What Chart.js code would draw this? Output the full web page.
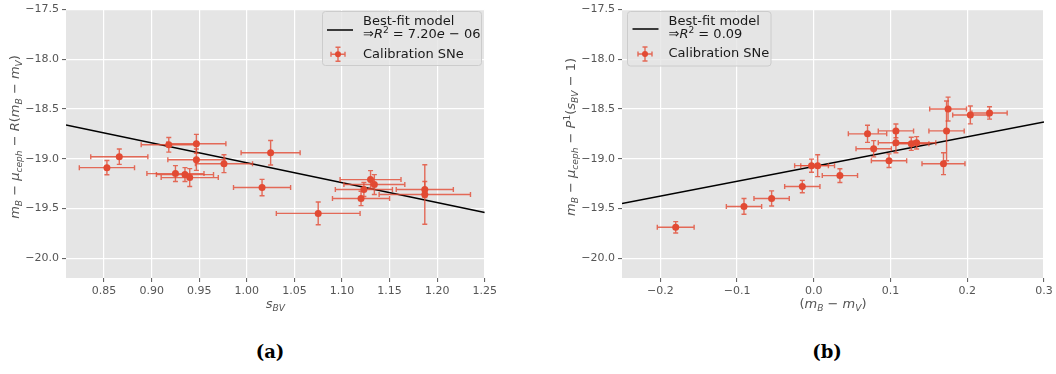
<!DOCTYPE html>
<html>
<head>
<meta charset="utf-8">
<script src="https://cdn.jsdelivr.net/npm/chart.js@4.4.1/dist/chart.umd.min.js"></script>
<style>
    body { margin: 0; background: #fff; width: 1056px; height: 374px; overflow: hidden; position: relative; }
    canvas { position: absolute; top: 0; }
    #chartA { left: 0; }
    #chartB { left: 556px; }
    .caption { position: absolute; top: 342px; width: 60px; text-align: center; font: bold 18px "DejaVu Serif", serif; color: #000; line-height: 20px; }
</style>
</head>
<body>
<canvas id="chartA" width="500" height="320"></canvas>
<canvas id="chartB" width="500" height="320"></canvas>
<div class="caption" style="left:240px">(a)</div>
<div class="caption" style="left:797px">(b)</div>
<script>
// panel (a): magnitude vs stretch s_BV
let sbv = [0.853, 0.866, 0.918, 0.947, 0.947, 0.976, 1.025, 0.925, 0.935, 0.940, 1.016, 1.075, 1.130, 1.134, 1.123, 1.120, 1.187, 1.187];
let sbvErr = [0.029, 0.030, 0.029, 0.031, 0.030, 0.030, 0.031, 0.030, 0.030, 0.030, 0.030, 0.044, 0.032, 0.032, 0.030, 0.030, 0.030, 0.048];
let magA = [-19.09, -18.98, -18.86, -18.85, -19.01, -19.05, -18.94, -19.15, -19.16, -19.19, -19.29, -19.55, -19.21, -19.26, -19.31, -19.40, -19.31, -19.36];
let magAErr = [0.072, 0.077, 0.074, 0.095, 0.107, 0.09, 0.123, 0.08, 0.07, 0.09, 0.082, 0.115, 0.09, 0.10, 0.07, 0.072, 0.08, 0.30];
let fitAX = [0.81, 1.25];
let fitAY = [-18.66, -19.54];
let sbvTicks = [0.85, 0.90, 0.95, 1.00, 1.05, 1.10, 1.15, 1.20, 1.25];

// panel (b): magnitude vs colour (m_B - m_V)
let colour = [-0.180, -0.091, -0.055, -0.015, -0.003, 0.005, 0.034, 0.070, 0.078, 0.107, 0.098, 0.107, 0.127, 0.134, 0.175, 0.173, 0.169, 0.204, 0.229];
let colourErr = [0.024, 0.023, 0.023, 0.023, 0.022, 0.022, 0.023, 0.025, 0.023, 0.023, 0.023, 0.023, 0.023, 0.025, 0.024, 0.023, 0.028, 0.023, 0.023];
let magB = [-19.69, -19.48, -19.40, -19.28, -19.07, -19.07, -19.17, -18.75, -18.90, -18.72, -19.02, -18.84, -18.85, -18.84, -18.50, -18.72, -19.05, -18.56, -18.54];
let magBErr = [0.057, 0.079, 0.076, 0.062, 0.066, 0.11, 0.069, 0.086, 0.082, 0.069, 0.069, 0.10, 0.066, 0.062, 0.12, 0.30, 0.11, 0.09, 0.062];
let fitBX = [-0.25, 0.3];
let fitBY = [-19.45, -18.63];
let colourTicks = [-0.2, -0.1, 0.0, 0.1, 0.2, 0.3];

let magTicks = [-20.0, -19.5, -19.0, -18.5, -18.0, -17.5];

const RED = '#E24A33';
const FONT = '"DejaVu Sans", sans-serif';

function minus(s) {
    return s.replace('-', '\u2212');
}

// draws a list of [text, style] runs; style: n normal, i italic, sub, sup
function runFont(style, size) {
    if (style === 'i') return 'italic ' + size + 'px ' + FONT;
    if (style === 'sub') return 'italic ' + (size * 0.7) + 'px ' + FONT;
    if (style === 'sup') return (size * 0.7) + 'px ' + FONT;
    return size + 'px ' + FONT;
}

function mathWidth(ctx, parts, size) {
    let w = 0;
    parts.forEach(p => {
        ctx.font = runFont(p[1], size);
        w += ctx.measureText(p[0]).width;
    });
    return w;
}

function drawMath(ctx, parts, x, y, size, color, align) {
    ctx.save();
    ctx.fillStyle = color;
    ctx.textBaseline = 'middle';
    ctx.textAlign = 'left';
    let cx = x;
    if (align === 'center') cx = x - mathWidth(ctx, parts, size) / 2;
    parts.forEach(p => {
        ctx.font = runFont(p[1], size);
        let dy = 0;
        if (p[1] === 'sub') dy = size * 0.25;
        if (p[1] === 'sup') dy = -size * 0.35;
        ctx.fillText(p[0], cx, y + dy);
        cx += ctx.measureText(p[0]).width;
    });
    ctx.restore();
}

function drawErrorCross(ctx, x, y, x0, x1, y0, y1) {
    let cap = 2.5;
    ctx.beginPath();
    ctx.moveTo(x0, y); ctx.lineTo(x1, y);
    ctx.moveTo(x, y0); ctx.lineTo(x, y1);
    ctx.moveTo(x0, y - cap); ctx.lineTo(x0, y + cap);
    ctx.moveTo(x1, y - cap); ctx.lineTo(x1, y + cap);
    ctx.moveTo(x - cap, y0); ctx.lineTo(x + cap, y0);
    ctx.moveTo(x - cap, y1); ctx.lineTo(x + cap, y1);
    ctx.stroke();
}

function makeChart(id, xs, ys, xErr, yErr, fitX, fitY, xTicks, xDigits, xMin, xMax, panel) {
    const panelPlugin = {
        id: 'panel',
        beforeDraw(chart) {
            const a = chart.chartArea;
            const ctx = chart.ctx;
            ctx.save();
            ctx.fillStyle = '#E5E5E5';
            ctx.fillRect(a.left, a.top, a.right - a.left, a.bottom - a.top);
            ctx.restore();
        },
        beforeDatasetDraw(chart, args) {
            if (args.index !== 0) return;
            const ctx = chart.ctx;
            const sx = chart.scales.x;
            const sy = chart.scales.y;
            ctx.save();
            ctx.strokeStyle = 'rgba(226, 74, 51, 0.8)';
            ctx.lineWidth = 1.4;
            xs.forEach((v, i) => {
                drawErrorCross(ctx,
                    sx.getPixelForValue(v), sy.getPixelForValue(ys[i]),
                    sx.getPixelForValue(v - xErr[i]), sx.getPixelForValue(v + xErr[i]),
                    sy.getPixelForValue(ys[i] + yErr[i]), sy.getPixelForValue(ys[i] - yErr[i]));
            });
            ctx.restore();
        },
        afterDraw(chart) {
            const ctx = chart.ctx;
            const a = chart.chartArea;
            // axis titles
            drawMath(ctx, panel.xTitle, (a.left + a.right) / 2, 305, 13, '#555', 'center');
            ctx.save();
            ctx.translate(16, 137);
            ctx.rotate(-Math.PI / 2);
            drawMath(ctx, panel.yTitle, 0, 0, 13, '#555', 'center');
            ctx.restore();

            // legend
            const L = panel.legend;
            ctx.save();
            ctx.fillStyle = 'rgba(229, 229, 229, 0.8)';
            ctx.strokeStyle = '#CCCCCC';
            ctx.lineWidth = 1;
            ctx.beginPath();
            ctx.roundRect(L.x0, L.y0, L.x1 - L.x0, L.y1 - L.y0, 3);
            ctx.fill();
            ctx.stroke();
            ctx.strokeStyle = '#000';
            ctx.lineWidth = 1.5;
            ctx.beginPath();
            ctx.moveTo(L.lineX0, L.lineY);
            ctx.lineTo(L.lineX1, L.lineY);
            ctx.stroke();
            ctx.strokeStyle = 'rgba(226, 74, 51, 0.8)';
            ctx.lineWidth = 1.4;
            drawErrorCross(ctx, L.markX, L.rows[2], L.markX - 7, L.markX + 7, L.rows[2] - 7, L.rows[2] + 7);
            ctx.fillStyle = RED;
            ctx.beginPath();
            ctx.arc(L.markX, L.rows[2], 3, 0, Math.PI * 2);
            ctx.fill();
            ctx.restore();
            drawMath(ctx, [['Best-fit model', 'n']], L.textX, L.rows[0], 13, '#1a1a1a');
            drawMath(ctx, panel.r2, L.textX, L.rows[1], 13, '#1a1a1a');
            drawMath(ctx, [['Calibration SNe', 'n']], L.textX, L.rows[2], 13, '#1a1a1a');
        }
    };

    return new Chart(document.getElementById(id), {
        type: 'scatter',
        data: {
            datasets: [
                {
                    label: 'Calibration SNe',
                    data: xs.map((v, i) => ({ x: v, y: ys[i] })),
                    backgroundColor: RED,
                    borderWidth: 0,
                    pointRadius: 3.5,
                    showLine: false
                },
                {
                    label: 'Best-fit model',
                    data: fitX.map((v, i) => ({ x: v, y: fitY[i] })),
                    borderColor: '#000',
                    borderWidth: 1.5,
                    pointRadius: 0,
                    showLine: true
                }
            ]
        },
        options: {
            responsive: false,
            animation: false,
            devicePixelRatio: 1,
            events: [],
            layout: { padding: { top: 5, right: 12, left: 0, bottom: 0 } },
            plugins: { legend: { display: false }, tooltip: { enabled: false } },
            scales: {
                x: {
                    type: 'linear',
                    min: xMin,
                    max: xMax,
                    afterBuildTicks: s => { s.ticks = xTicks.map(v => ({ value: v })); },
                    afterFit: s => { s.height = 42; },
                    border: { display: false },
                    grid: { color: '#FFFFFF', lineWidth: 1.2, tickColor: '#555', tickLength: 4, tickWidth: 1 },
                    ticks: {
                        padding: 3,
                        color: '#555',
                        font: { family: 'DejaVu Sans', size: 11 },
                        maxRotation: 0,
                        callback: v => minus(v.toFixed(xDigits))
                    }
                },
                y: {
                    type: 'linear',
                    min: -20.2,
                    max: -17.5,
                    afterBuildTicks: s => { s.ticks = magTicks.map(v => ({ value: v })); },
                    afterFit: s => { s.width = 66; },
                    border: { display: false },
                    grid: { color: '#FFFFFF', lineWidth: 1.2, tickColor: '#555', tickLength: 4, tickWidth: 1 },
                    ticks: {
                        padding: 3,
                        color: '#555',
                        font: { family: 'DejaVu Sans', size: 11 },
                        callback: v => minus(v.toFixed(1))
                    }
                }
            }
        },
        plugins: [panelPlugin]
    });
}

makeChart('chartA', sbv, magA, sbvErr, magAErr, fitAX, fitAY, sbvTicks, 2, 0.81, 1.25, {
    xTitle: [['s', 'i'], ['BV', 'sub']],
    yTitle: [['m', 'i'], ['B', 'sub'], [' \u2212 ', 'n'], ['\u03bc', 'i'], ['ceph', 'sub'], [' \u2212 ', 'n'],
        ['R', 'i'], ['(', 'n'], ['m', 'i'], ['B', 'sub'], [' \u2212 ', 'n'], ['m', 'i'], ['V', 'sub'], [')', 'n']],
    r2: [['\u21d2', 'n'], ['R', 'i'], ['2', 'sup'], [' = 7.20', 'n'], ['e', 'i'], [' \u2212 06', 'n']],
    legend: { x0: 322.5, y0: 11.5, x1: 481.5, y1: 65.5, lineX0: 327, lineX1: 353, lineY: 30,
        textX: 363, rows: [21.7, 34.8, 54.3], markX: 338 }
});

makeChart('chartB', colour, magB, colourErr, magBErr, fitBX, fitBY, colourTicks, 1, -0.25, 0.3, {
    xTitle: [['(', 'n'], ['m', 'i'], ['B', 'sub'], [' \u2212 ', 'n'], ['m', 'i'], ['V', 'sub'], [')', 'n']],
    yTitle: [['m', 'i'], ['B', 'sub'], [' \u2212 ', 'n'], ['\u03bc', 'i'], ['ceph', 'sub'], [' \u2212 ', 'n'],
        ['P', 'i'], ['1', 'sup'], ['(', 'n'], ['s', 'i'], ['BV', 'sub'], [' \u2212 1)', 'n']],
    r2: [['\u21d2', 'n'], ['R', 'i'], ['2', 'sup'], [' = 0.09', 'n']],
    legend: { x0: 71.5, y0: 11.5, x1: 215, y1: 66, lineX0: 76.5, lineX1: 102.5, lineY: 29,
        textX: 112.5, rows: [21.7, 35, 54], markX: 89 }
});
</script>
</body>
</html>
